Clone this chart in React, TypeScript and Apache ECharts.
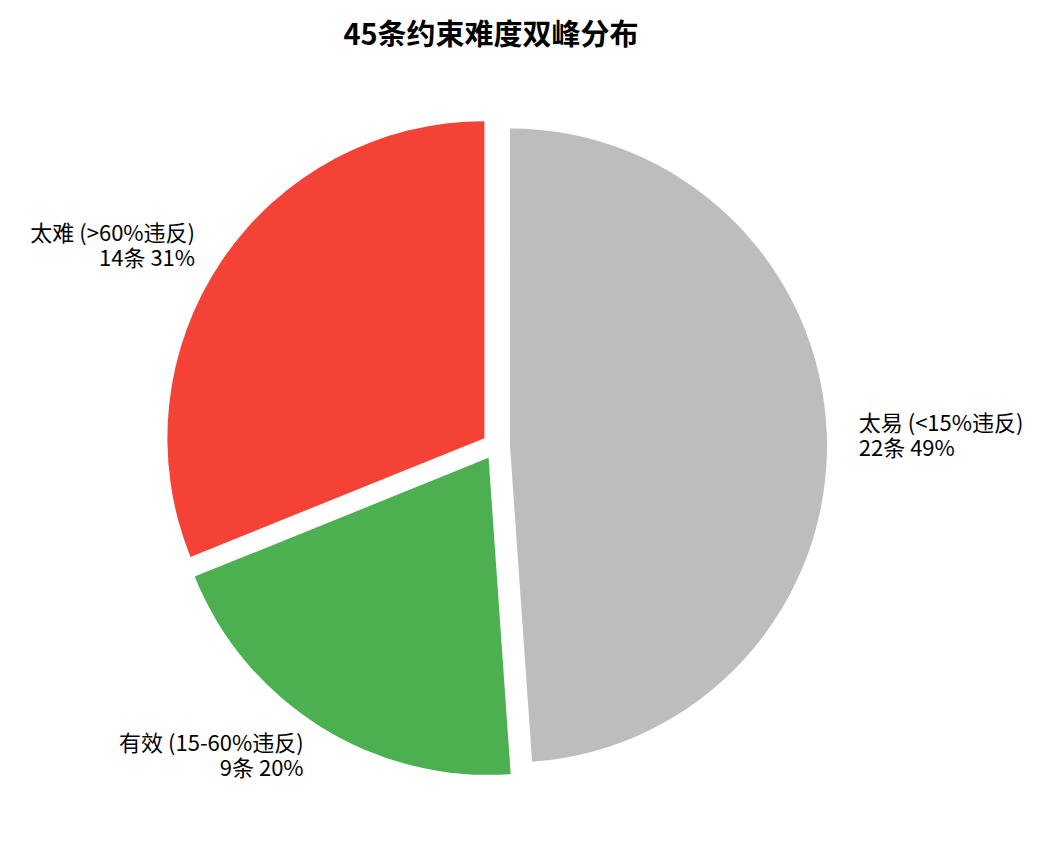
import React, { useEffect, useRef } from 'react';
import * as echarts from 'echarts';

// 约束难度分类及数量
const CATEGORIES = ['太易 (<15%违反)', '有效 (15-60%违反)', '太难 (>60%违反)'];
const COUNTS = [22, 9, 14];
const COLORS = ['#bdbdbd', '#4caf50', '#f44336'];

const FONT = '"Noto Sans CJK SC", "Noto Sans", sans-serif';

export default function App() {
  const chartRef = useRef<HTMLDivElement>(null);

  useEffect(() => {
    document.body.style.margin = '0';
    if (!chartRef.current) return;
    const chart = echarts.init(chartRef.current, undefined, { renderer: 'svg' });

    const data = CATEGORIES.map((name, i) => ({
      name,
      value: COUNTS[i],
      selected: true,
      itemStyle: { color: COLORS[i] },
    }));

    chart.setOption({
      animation: false,
      backgroundColor: '#ffffff',
      title: {
        text: '45条约束难度双峰分布',
        left: 486,
        top: 12,
        textAlign: 'center',
        textStyle: { fontFamily: FONT, fontSize: 29, fontWeight: 'bold', color: '#000' },
      },
      series: [
        {
          type: 'pie',
          center: [496, 446],
          radius: 317,
          startAngle: 90,
          clockwise: true,
          selectedMode: 'multiple',
          selectedOffset: 14,
          avoidLabelOverlap: false,
          emphasis: { disabled: true },
          select: { itemStyle: { borderWidth: 0 } },
          itemStyle: { borderWidth: 0 },
          label: {
            show: true,
            position: 'outside',
            distanceToLabelLine: 0,
            fontFamily: FONT,
            fontSize: 22,
            lineHeight: 25,
            color: '#000',
            formatter: (p: any) => `${p.name}\n${p.value}条 ${Math.round(p.percent)}%`,
          },
          labelLine: { show: false, length: 32, length2: 0 },
          data,
        },
      ],
    });

    return () => {
      chart.dispose();
    };
  }, []);

  return <div ref={chartRef} style={{ width: 1051, height: 858 }} />;
}
